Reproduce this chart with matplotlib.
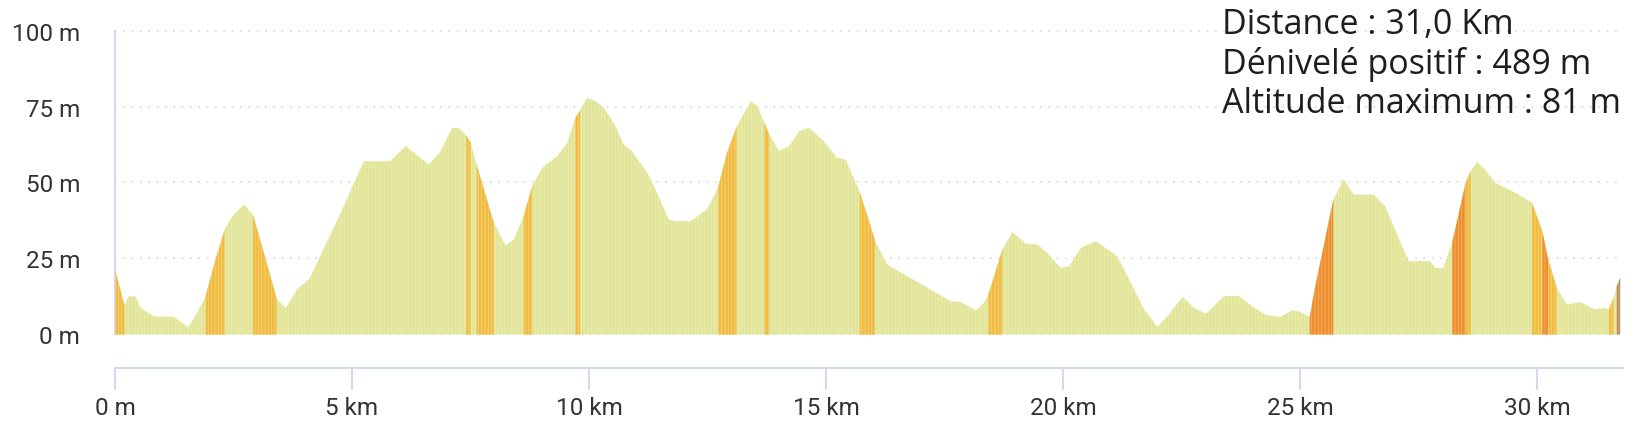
import matplotlib
matplotlib.use("Agg")
import matplotlib.pyplot as plt
import numpy as np

# profil altimetrique (km, m)
dist_km = [0.00, 0.19, 0.28, 0.42, 0.53, 0.81, 1.23, 1.37, 1.53, 1.72, 1.90, 2.07, 2.30, 2.46,
           2.71, 2.90, 3.13, 3.40, 3.59, 3.83, 4.08, 4.32, 4.75, 5.24, 5.80, 6.12, 6.61, 6.86,
           7.10, 7.24, 7.40, 7.49, 7.62, 7.98, 8.23, 8.40, 8.61, 8.79, 9.00, 9.32, 9.53, 9.70,
           9.80, 9.95, 10.13, 10.30, 10.51, 10.72, 10.86, 11.22, 11.39, 11.67, 11.81, 12.13,
           12.48, 12.71, 12.90, 13.10, 13.40, 13.54, 13.69, 13.79, 14.00, 14.21, 14.42, 14.63,
           14.94, 15.22, 15.40, 15.70, 15.93, 16.02, 16.28, 17.13, 17.62, 17.83, 18.15, 18.32,
           18.41, 18.71, 18.92, 19.20, 19.45, 19.69, 19.94, 20.12, 20.36, 20.68, 21.13, 21.42,
           21.70, 21.98, 22.22, 22.51, 22.75, 23.00, 23.39, 23.70, 23.97, 24.25, 24.57, 24.82,
           24.96, 25.19, 25.31, 25.69, 25.91, 26.12, 26.54, 26.78, 27.28, 27.73, 27.84, 28.01,
           28.20, 28.48, 28.59, 28.72, 28.89, 29.10, 29.53, 29.88, 30.10, 30.22, 30.40, 30.62,
           30.90, 31.21, 31.43, 31.50, 31.60, 31.67, 31.74]
alt_m = [20.9, 9.5, 12.6, 12.6, 8.8, 6.0, 5.8, 4.4, 2.2, 7.2, 12.6, 22.6, 34.5, 39.0,
         42.9, 39.5, 27.0, 11.8, 8.8, 14.9, 18.2, 25.9, 40.2, 57.2, 57.2, 62.2, 56.1, 60.5,
         68.2, 68.2, 65.5, 63.5, 56.0, 36.9, 29.4, 31.4, 39.1, 49.0, 55.0, 58.9, 63.3, 71.5,
         74.0, 78.1, 77.0, 74.8, 69.9, 62.7, 61.1, 53.4, 47.9, 38.0, 37.4, 37.4,
         41.3, 48.5, 60.0, 68.5, 77.0, 75.4, 69.8, 66.0, 60.5, 62.2, 67.1, 68.2,
         63.8, 58.3, 57.8, 47.0, 35.8, 31.0, 23.1, 15.4, 11.0, 10.7, 8.0, 10.5,
         13.0, 28.1, 33.8, 30.0, 29.7, 26.4, 22.0, 22.6, 28.6, 30.8, 25.9, 17.1,
         8.3, 2.5, 6.6, 12.4, 8.8, 6.9, 12.7, 12.7, 9.4, 6.6, 5.8, 8.0,
         7.7, 5.8, 16.0, 44.6, 51.2, 46.2, 46.2, 42.4, 24.2, 24.2, 22.0, 22.0,
         30.5, 50.0, 54.0, 56.9, 54.5, 50.1, 46.8, 43.5, 34.0, 25.0, 15.5, 9.9,
         10.7, 8.3, 8.8, 8.3, 12.0, 16.0, 18.7]

# troncons colores selon la pente (debut km, fin km, classe)
pente_debut = [0.00, 1.90, 2.90, 7.40, 7.62, 8.61, 9.70, 12.71, 13.69, 15.70, 18.41,
               25.19, 28.20, 28.48, 29.88, 30.10, 30.22, 31.50, 31.67]
pente_fin = [0.19, 2.30, 3.40, 7.49, 7.98, 8.79, 9.80, 13.10, 13.79, 16.02, 18.71,
             25.69, 28.48, 28.59, 30.10, 30.22, 30.40, 31.60, 31.74]
pente_classe = [1, 1, 1, 1, 1, 1, 1, 1, 1, 1, 1,
                2, 2, 1, 1, 2, 1, 1, 3]

y_ticks = [0, 25, 50, 75, 100]
y_labels = ["0 m", "25 m", "50 m", "75 m", "100 m"]
x_ticks = [0, 5, 10, 15, 20, 25, 30]
x_labels = ["0 m", "5 km", "10 km", "15 km", "20 km", "25 km", "30 km"]

couleurs = {0: "#e2e597", 1: "#f0bd42", 2: "#ee8f2e", 3: "#b8895c"}
bleu_axe = "#d3d9ee"

x = np.array(dist_km)
y = np.array(alt_m)

fig = plt.figure(figsize=(16.38, 4.31), dpi=100)
ax = fig.add_axes([0.0702, 0.1439, 0.9206, 0.7841])

for g in y_ticks:
    ax.axhline(g, color="#d8d8d8", lw=1.2, ls=(0, (1, 4)), zorder=0)

ax.fill_between(x, 0, y, color=couleurs[0], lw=0, zorder=2)
for a, b, c in zip(pente_debut, pente_fin, pente_classe):
    m = (x >= a - 1e-9) & (x <= b + 1e-9)
    ax.fill_between(x[m], 0, y[m], color=couleurs[c], lw=0, zorder=3)

# fines rayures verticales des barres
plt.rcParams["hatch.linewidth"] = 0.5
ax.fill_between(x, 0, y, facecolor="none", edgecolor=(1, 1, 1, 0.35),
                hatch="|||||", lw=0, zorder=4)

ax.set_xlim(0, 31.81)
ax.set_ylim(-11.2, 100.3)

for s in ["top", "right"]:
    ax.spines[s].set_visible(False)
ax.spines["left"].set_color(bleu_axe)
ax.spines["left"].set_linewidth(1.5)
ax.spines["left"].set_bounds(0, 100)
ax.spines["bottom"].set_color(bleu_axe)
ax.spines["bottom"].set_linewidth(1.5)

ax.set_yticks(y_ticks)
ax.set_yticklabels(y_labels, fontfamily="Roboto", fontsize=17.5, color="#333333")
ax.tick_params(axis="y", length=0, pad=25)
ax.set_xticks(x_ticks)
ax.set_xticklabels(x_labels, fontfamily="Roboto", fontsize=17.5, color="#333333")
ax.tick_params(axis="x", length=16, width=1.5, color=bleu_axe, pad=4)

infos = ["Distance : 31,0 Km", "Dénivelé positif : 489 m", "Altitude maximum : 81 m"]
for i, t in enumerate(infos):
    fig.text(1222 / 1638, 1 - (34 + 39.5 * i) / 431, t, fontfamily="Open Sans",
             fontsize=24.5, color="#1e1e1e", va="baseline", ha="left")

fig.savefig("out.png", dpi=100)
